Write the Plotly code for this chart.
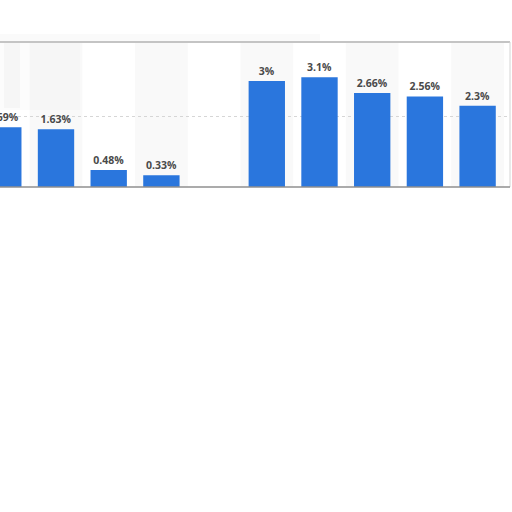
import plotly.graph_objects as go

# values (the 5th slot is empty)
categories = ["c1", "c2", "c3", "c4", "c5", "c6", "c7", "c8", "c9", "c10"]
values = [1.69, 1.63, 0.48, 0.33, None, 3.0, 3.1, 2.66, 2.56, 2.3]
labels = ["1.69%", "1.63%", "0.48%", "0.33%", "", "3%", "3.1%", "2.66%", "2.56%", "2.3%"]

W, H = 512, 512


def px(x):
    return x / W


def py(y):
    return 1 - y / H


y_bottom, y_top = py(187), py(42)
x_right = px(510)

# 52.7 px per category, first bar centred at x=3.3
step = 52.7
x0_idx = -3.3 / step
x1_idx = (510 - 3.3) / step

fig = go.Figure()
fig.add_trace(go.Bar(
    x=categories, y=values,
    marker=dict(color="#2a76dd", line=dict(width=0)),
    text=labels, textposition="outside", cliponaxis=False,
    textfont=dict(family="Open Sans", size=10.5, color="#4a4a4a", weight="bold"),
    hoverinfo="skip",
))

shapes = []
# alternating column stripes
for i in range(len(categories)):
    if i % 2 == 1:
        shapes.append(dict(type="rect", xref="x", yref="paper", layer="below",
                           x0=i - 0.5, x1=i + 0.5, y0=y_bottom, y1=y_top,
                           fillcolor="#f9f9f9", line=dict(width=0)))
# faint blur at top left
shapes.append(dict(type="rect", xref="paper", yref="paper", layer="below",
                   x0=0, x1=px(80), y0=py(110), y1=y_top,
                   fillcolor="rgba(200,200,200,0.06)", line=dict(width=0)))
shapes.append(dict(type="rect", xref="paper", yref="paper", layer="below",
                   x0=px(4), x1=px(20), y0=py(108), y1=y_top,
                   fillcolor="rgba(180,180,180,0.08)", line=dict(width=0)))
shapes.append(dict(type="rect", xref="paper", yref="paper", layer="below",
                   x0=0, x1=px(320), y0=py(41), y1=py(34),
                   fillcolor="rgba(210,210,210,0.10)", line=dict(width=0)))
# box borders
shapes.append(dict(type="line", xref="paper", yref="paper",
                   x0=0, x1=x_right, y0=y_top, y1=y_top,
                   line=dict(color="#c4c4c4", width=2)))
shapes.append(dict(type="line", xref="paper", yref="paper",
                   x0=x_right, x1=x_right, y0=y_bottom, y1=y_top,
                   line=dict(color="#d4d4d4", width=1)))
shapes.append(dict(type="line", xref="paper", yref="paper",
                   x0=0, x1=x_right, y0=y_bottom, y1=y_bottom,
                   line=dict(color="#8f8f8f", width=1.5)))

fig.update_layout(
    width=W, height=H,
    margin=dict(l=0, r=0, t=0, b=0),
    paper_bgcolor="white", plot_bgcolor="rgba(0,0,0,0)",
    showlegend=False,
    bargap=0.31,
    shapes=shapes,
    xaxis=dict(domain=[0, x_right], range=[x0_idx, x1_idx],
               showticklabels=False, showgrid=False, zeroline=False),
    yaxis=dict(domain=[y_bottom, y_top], range=[0, 4.1],
               tickvals=[2], showticklabels=False,
               showgrid=True, gridcolor="#d6d6d6", griddash="dot", gridwidth=1,
               zeroline=False),
)

# drop the browser's default page margin so the figure starts at the corner
fig.write_html("out.html", config={"displayModeBar": False},
               post_script="document.body.style.margin='0';")
